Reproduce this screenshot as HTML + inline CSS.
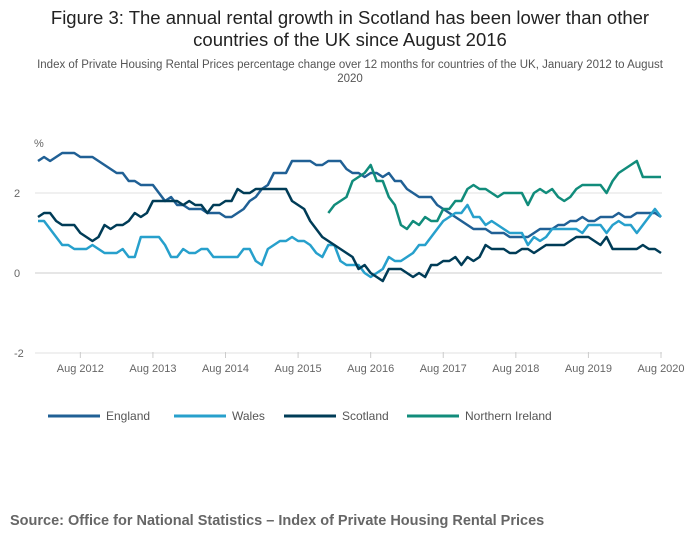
<!DOCTYPE html>
<html><head><meta charset="utf-8"><style>
body{margin:0;width:700px;height:549px;background:#fff;font-family:"Liberation Sans",sans-serif;overflow:hidden;position:relative}
#title{position:absolute;top:7px;left:30px;width:640px;text-align:center;font-size:18.5px;line-height:22px;color:#222}
#sub{position:absolute;top:58px;left:30px;width:640px;text-align:center;font-size:11.5px;line-height:14px;color:#555}
#src{position:absolute;top:513px;left:10px;font-size:14.5px;font-weight:bold;color:#666}
svg{position:absolute;left:0;top:0}
</style></head><body>
<div id="title">Figure 3: The annual rental growth in Scotland has been lower than other countries of the UK since August 2016</div>
<div id="sub">Index of Private Housing Rental Prices percentage change over 12 months for countries of the UK, January 2012 to August 2020</div>
<svg id="chart" width="700" height="549"></svg>
<div id="src">Source: Office for National Statistics – Index of Private Housing Rental Prices</div>
<script>
const xTickLabels=["Aug 2012","Aug 2013","Aug 2014","Aug 2015","Aug 2016","Aug 2017","Aug 2018","Aug 2019","Aug 2020"];
const xTickIndex=[7,19,31,43,55,67,79,91,103];
const yTicks=[-2,0,2];
const england=[2.8,2.9,2.8,2.9,3.0,3.0,3.0,2.9,2.9,2.9,2.8,2.7,2.6,2.5,2.5,2.3,2.3,2.2,2.2,2.2,2.0,1.8,1.9,1.7,1.7,1.6,1.6,1.6,1.5,1.5,1.5,1.4,1.4,1.5,1.6,1.8,1.9,2.1,2.2,2.5,2.5,2.5,2.8,2.8,2.8,2.8,2.7,2.7,2.8,2.8,2.8,2.6,2.5,2.5,2.4,2.5,2.5,2.4,2.5,2.3,2.3,2.1,2.0,1.9,1.9,1.9,1.7,1.6,1.5,1.4,1.3,1.2,1.1,1.1,1.1,1.0,1.0,1.0,0.9,0.9,0.9,0.9,1.0,1.1,1.1,1.1,1.2,1.2,1.3,1.3,1.4,1.3,1.3,1.4,1.4,1.4,1.5,1.4,1.4,1.5,1.5,1.5,1.5,1.4];
const wales=[1.3,1.3,1.1,0.9,0.7,0.7,0.6,0.6,0.6,0.7,0.6,0.5,0.5,0.5,0.6,0.4,0.4,0.9,0.9,0.9,0.9,0.7,0.4,0.4,0.6,0.5,0.5,0.6,0.6,0.4,0.4,0.4,0.4,0.4,0.6,0.6,0.3,0.2,0.6,0.7,0.8,0.8,0.9,0.8,0.8,0.7,0.5,0.4,0.7,0.7,0.3,0.2,0.2,0.2,0.0,-0.1,0.0,0.1,0.4,0.3,0.3,0.4,0.5,0.7,0.7,0.9,1.1,1.3,1.4,1.5,1.5,1.7,1.4,1.4,1.2,1.3,1.2,1.1,1.0,1.0,1.0,0.7,0.9,0.8,0.9,1.1,1.1,1.1,1.1,1.1,1.0,1.2,1.2,1.2,1.0,1.2,1.3,1.2,1.2,1.0,1.2,1.4,1.6,1.4];
const scotland=[1.4,1.5,1.5,1.3,1.2,1.2,1.2,1.0,0.9,0.8,0.9,1.2,1.1,1.2,1.2,1.3,1.5,1.4,1.5,1.8,1.8,1.8,1.8,1.8,1.7,1.8,1.7,1.7,1.5,1.7,1.7,1.8,1.8,2.1,2.0,2.0,2.1,2.1,2.1,2.1,2.1,2.1,1.8,1.7,1.6,1.3,1.1,0.9,0.8,0.7,0.6,0.5,0.4,0.1,0.2,0.0,-0.1,-0.2,0.1,0.1,0.1,0.0,-0.1,0.0,-0.1,0.2,0.2,0.3,0.3,0.4,0.2,0.4,0.3,0.4,0.7,0.6,0.6,0.6,0.5,0.5,0.6,0.6,0.5,0.6,0.7,0.7,0.7,0.7,0.8,0.9,0.9,0.9,0.8,0.7,0.9,0.6,0.6,0.6,0.6,0.6,0.7,0.6,0.6,0.5];
const niStart=48;
const nireland=[1.5,1.7,1.8,1.9,2.3,2.4,2.5,2.7,2.3,2.3,1.9,1.7,1.2,1.1,1.3,1.2,1.4,1.3,1.3,1.6,1.6,1.8,1.8,2.1,2.2,2.1,2.1,2.0,1.9,2.0,2.0,2.0,2.0,1.7,2.0,2.1,2.0,2.1,1.9,1.8,1.9,2.1,2.2,2.2,2.2,2.2,2.0,2.3,2.5,2.6,2.7,2.8,2.4,2.4,2.4,2.4];
const names=["England","Wales","Scotland","Northern Ireland"];
const colors=["#206095","#27a0cc","#003c57","#118c7b"];

const svg=document.getElementById('chart');const NS="http://www.w3.org/2000/svg";
const x=i=>38+i*(623/103);const y=v=>273-v*40;
function mk(t,a,p){const e=document.createElementNS(NS,t);for(const k in a)e.setAttribute(k,a[k]);(p||svg).appendChild(e);return e;}
yTicks.forEach(v=>{
 const l=mk('line',{x1:35,x2:662,y1:y(v),y2:y(v),stroke:v==0?'#ccc':'#e0e0e0','stroke-width':1});
 
 
 const t=mk('text',{x:14,y:y(v)+4,'font-size':11,fill:'#666','font-family':'Liberation Sans'});t.textContent=v;
 
 
});
const pct=mk('text',{x:34,y:147,'font-size':11,fill:'#666'});pct.textContent='%';


xTickIndex.forEach((idx,k)=>{
 const tk=mk('line',{x1:x(idx),x2:x(idx),y1:352,y2:358,stroke:'#ccc'});
 
 
 const t=mk('text',{x:x(idx),y:372,'font-size':11,fill:'#666','text-anchor':'middle'});t.textContent=xTickLabels[k];
 
 
});
const series=[[england,0],[wales,0],[scotland,0],[nireland,niStart]];
series.forEach(([d,s],k)=>{
 const p=mk('polyline',{points:d.map((v,i)=>x(i+s)+','+y(v)).join(' '),fill:'none',stroke:colors[k],'stroke-width':2.5,'stroke-linejoin':'round'});
 
 
});
const lx=[48,174,284,407];
names.forEach((n,k)=>{
 const g=mk('g',{});
 
 
 mk('line',{x1:lx[k],x2:lx[k]+52,y1:416,y2:416,stroke:colors[k],'stroke-width':3},g);
 const t=mk('text',{x:lx[k]+58,y:420,'font-size':12,fill:'#555'},g);t.textContent=n;
});
</script>
</body></html>
